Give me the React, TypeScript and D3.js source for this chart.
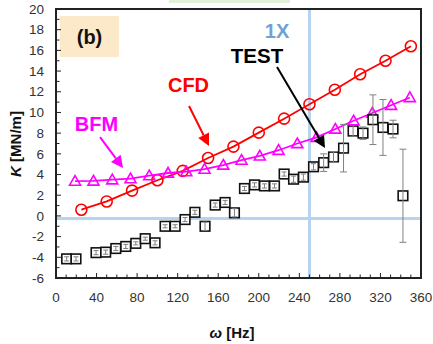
import React from "react";
import * as d3 from "d3";

// ---- data ----
const cfdHz = [25, 50, 75, 100, 125, 150, 175, 200, 225, 250, 275, 300, 325, 350];
const cfdK = [0.6, 1.4, 2.45, 3.45, 4.35, 5.6, 6.7, 8.05, 9.4, 10.8, 12.2, 13.7, 15.0, 16.4];

const bfmHz = [18.8, 37, 55.5, 73.5, 92, 110.5, 128.5, 146.5, 165, 183, 201, 219.5, 238, 257, 275.5, 293.5, 312, 330.5, 349];
const bfmK = [3.37, 3.38, 3.5, 3.6, 3.9, 4.15, 4.28, 4.53, 4.92, 5.4, 5.8, 6.35, 7.0, 7.6, 8.4, 9.2, 9.95, 10.7, 11.45];

const testHz = [10.5, 19.7, 39.5, 49, 59, 68.8, 78.7, 88, 97.7, 107.6, 117.5, 127.3, 137, 147, 157, 166.8, 176, 185.9, 195.8, 205.6, 215.5, 225, 234.3, 244, 254, 264, 273.7, 283.6, 293, 302.8, 312.6, 322.5, 332.4, 342.2];
const testK = [-4.15, -4.15, -3.55, -3.5, -3.15, -2.95, -2.65, -2.2, -2.6, -1.0, -1.0, -0.35, 0.35, -1.0, 1.05, 1.3, 0.3, 2.65, 3.0, 2.9, 2.9, 4.05, 3.55, 3.75, 4.75, 5.15, 5.7, 6.55, 8.2, 8.0, 9.3, 8.55, 8.4, 1.95];
const testErr = [0.2, 0.2, 0.2, 0.2, 0.2, 0.2, 0.15, 0.15, 0.2, 0.15, 0.15, 0.2, 0.2, 0.4, 0.2, 0.2, 0.4, 0.2, 0.2, 0.2, 0.2, 0.2, 0.3, 0.3, 0.3, 0.85, 0.5, 2.3, 0.5, 0.6, 2.4, 2.7, 0.85, 4.5];

const xTickLabels = [0, 40, 80, 120, 160, 200, 240, 280, 320, 360];
const yTickLabels = [-6, -4, -2, 0, 2, 4, 6, 8, 10, 12, 14, 16, 18, 20];
const refHz = 250;
const refK = -0.25;

// annotation arrows in data units: [x1, y1, x2, y2]
const cfdArrow = [131.2, 10.62, 150.9, 6.76];
const bfmArrow = [43.4, 7.62, 66.1, 4.63];
const testArrow = [218, 14.39, 265.3, 6.56];

const FONT = "Arial, 'Liberation Sans', sans-serif";

export default function App() {
  const W = 433, H = 344;
  const x = d3.scaleLinear().domain([0, 360]).range([56, 421]);
  const y = d3.scaleLinear().domain([-6, 20]).range([278, 9]);

  const line = d3.line<[number, number]>().x(d => x(d[0])).y(d => y(d[1]));
  const cfd: [number, number][] = cfdHz.map((h, i) => [h, cfdK[i]]);
  const bfm: [number, number][] = bfmHz.map((h, i) => [h, bfmK[i]]);

  const xMinor = d3.range(0, 361, 10);
  const yMinor = d3.range(-6, 20.5, 1);

  const arrow = (a: number[], color: string, key: string) => {
    const x1 = x(a[0]), y1 = y(a[1]), x2 = x(a[2]), y2 = y(a[3]);
    const ang = Math.atan2(y2 - y1, x2 - x1);
    const L = 12, Wd = 6;
    const bx = x2 - L * Math.cos(ang), by = y2 - L * Math.sin(ang);
    const px = -Math.sin(ang) * Wd, py = Math.cos(ang) * Wd;
    return (
      <g key={key}>
        <line x1={x1} y1={y1} x2={bx} y2={by} stroke={color} strokeWidth={2} />
        <polygon points={`${x2},${y2} ${bx + px},${by + py} ${bx - px},${by - py}`} fill={color} />
      </g>
    );
  };

  const tri = (cx: number, cy: number) => {
    const s = 5.5;
    return `${cx},${cy - s} ${cx + s},${cy + s * 0.75} ${cx - s},${cy + s * 0.75}`;
  };

  return (
    <svg width={W} height={H} style={{ position: "absolute", left: 0, top: 0, background: "#fff" }} fontFamily={FONT}>
      {/* cut-off legend box at top */}
      <rect x={169} y={0} width={121} height={3} fill="#e2efd9" />
      {/* (b) box */}
      <rect x={60} y={16} width={59} height={41} fill="#fce9c9" />
      <text x={89.5} y={44} textAnchor="middle" fontSize={20} fontWeight="bold" fill="#111">(b)</text>

      {/* reference lines */}
      <line x1={x(0)} x2={x(360)} y1={y(refK)} y2={y(refK)} stroke="#b7d3ee" strokeWidth={3} />
      <line x1={x(refHz)} x2={x(refHz)} y1={y(20)} y2={y(-6)} stroke="#b7d3ee" strokeWidth={3} />

      {/* CFD */}
      <path d={line(cfd) || ""} fill="none" stroke="#ff0000" strokeWidth={1.8} />
      {cfd.map((d, i) => (
        <circle key={"c" + i} cx={x(d[0])} cy={y(d[1])} r={5.5} fill="none" stroke="#ff0000" strokeWidth={1.6} />
      ))}

      {/* BFM */}
      <path d={line(bfm) || ""} fill="none" stroke="#ff00ff" strokeWidth={1.8} />
      {bfm.map((d, i) => (
        <polygon key={"b" + i} points={tri(x(d[0]), y(d[1]))} fill="none" stroke="#ff00ff" strokeWidth={1.6} />
      ))}

      {/* TEST */}
      {testHz.map((h, i) => (
        <rect key={"s" + i} x={x(h) - 4.8} y={y(testK[i]) - 4.8} width={9.6} height={9.6} fill="#fff" stroke="#111" strokeWidth={1.6} />
      ))}
      {testHz.map((h, i) => {
        const cx = x(h), t = y(testK[i] + testErr[i]), b = y(testK[i] - testErr[i]);
        const cw = testErr[i] > 0.4 ? 3.5 : 2.5;
        return (
          <g key={"e" + i} stroke="#808080" strokeWidth={1}>
            <line x1={cx} x2={cx} y1={t} y2={b} />
            <line x1={cx - cw} x2={cx + cw} y1={t} y2={t} />
            <line x1={cx - cw} x2={cx + cw} y1={b} y2={b} />
          </g>
        );
      })}

      {/* frame */}
      <rect x={x(0)} y={y(20)} width={x(360) - x(0)} height={y(-6) - y(20)} fill="none" stroke="#222" strokeWidth={2} />

      {/* ticks */}
      {xMinor.map(v => (
        <line key={"xt" + v} x1={x(v)} x2={x(v)} y1={y(-6)} y2={y(-6) - (v % 40 === 0 ? 5 : 3.5)} stroke="#222" strokeWidth={1} />
      ))}
      {yMinor.map(v => (
        <line key={"yt" + v} x1={x(0)} x2={x(0) + (v % 2 === 0 ? 5 : 3.5)} y1={y(v)} y2={y(v)} stroke="#222" strokeWidth={1} />
      ))}
      {xTickLabels.map(v => (
        <text key={"xl" + v} x={x(v)} y={301.5} textAnchor="middle" fontSize={13.5} fill="#333">{v}</text>
      ))}
      {yTickLabels.map(v => (
        <text key={"yl" + v} x={44} y={y(v)} dy="0.35em" textAnchor="end" fontSize={13.5} fill="#333">{v}</text>
      ))}

      {/* axis titles */}
      <text x={232} y={338} textAnchor="middle" fontSize={15} fontWeight="bold" fill="#111">
        <tspan fontStyle="italic">ω</tspan> [Hz]
      </text>
      <text transform="translate(21,144) rotate(-90)" textAnchor="middle" fontSize={15} fontWeight="bold" fill="#111">
        <tspan fontStyle="italic">K</tspan> [MN/m]
      </text>

      {/* annotations */}
      <text x={188.5} y={92} textAnchor="middle" fontSize={20} fontWeight="bold" fill="#ff0000">CFD</text>
      <text x={96.5} y={131} textAnchor="middle" fontSize={20} fontWeight="bold" fill="#ff00ff">BFM</text>
      <text x={277} y={38} textAnchor="middle" fontSize={20} fontWeight="bold" fill="#6fa3d6">1X</text>
      <text x={257} y={63} textAnchor="middle" fontSize={20.5} fontWeight="bold" fill="#000">TEST</text>
      {arrow(cfdArrow, "#ff0000", "a1")}
      {arrow(bfmArrow, "#ff00ff", "a2")}
      {arrow(testArrow, "#000", "a3")}
    </svg>
  );
}
